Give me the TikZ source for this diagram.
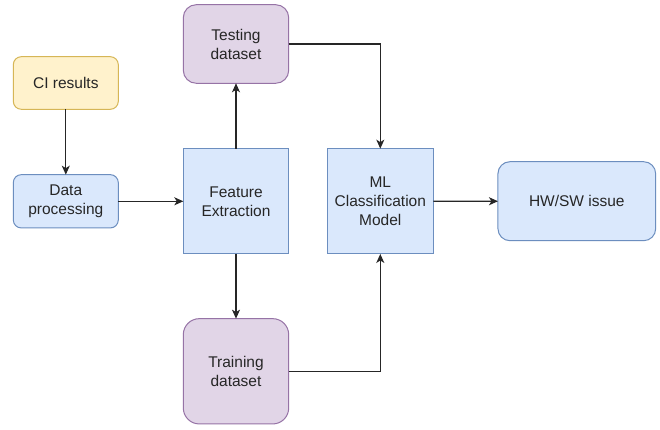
\documentclass[tikz,border=0pt]{standalone}
\usepackage{fontspec}
\setmainfont{Liberation Sans}
\usetikzlibrary{arrows.meta}
\definecolor{ylwfill}{HTML}{FFF2CC}
\definecolor{ylwline}{HTML}{D6B656}
\definecolor{bluefill}{HTML}{DAE8FC}
\definecolor{blueline}{HTML}{6C8EBF}
\definecolor{purpfill}{HTML}{E1D5E7}
\definecolor{purpline}{HTML}{9673A6}
\definecolor{txt}{HTML}{262626}
\tikzset{
  box/.style={rectangle, line width=1pt, inner sep=0pt, outer sep=0pt,
    align=center, text=txt, font=\fontsize{15.5}{19}\selectfont},
  yellowbox/.style={box, fill=ylwfill, draw=ylwline},
  bluebox/.style={box, fill=bluefill, draw=blueline},
  purplebox/.style={box, fill=purpfill, draw=purpline},
  link/.style={line width=1.2pt, draw=black!85, -{Stealth[length=9pt,width=8pt,inset=2.5pt]}}
}
\begin{document}
\begin{tikzpicture}[x=1pt,y=-1pt]
  \useasboundingbox[fill=white] (0,0) rectangle (660,430);

  \node[yellowbox, rounded corners=8pt, minimum width=105pt, minimum height=52.6pt]
    (ci) at (65.8,83) {CI results};
  \node[bluebox, rounded corners=8pt, minimum width=105pt, minimum height=53.3pt]
    (dp) at (65.8,201.3) {Data\\processing};
  \node[bluebox, minimum width=105.4pt, minimum height=105.3pt]
    (fe) at (236,201.3) {Feature\\Extraction};
  \node[purplebox, rounded corners=13pt, minimum width=105.4pt, minimum height=78.6pt]
    (test) at (236,44) {Testing\\dataset};
  \node[purplebox, rounded corners=16pt, minimum width=105.4pt, minimum height=105.3pt]
    (train) at (236,371.3) {Training\\dataset};
  \node[bluebox, minimum width=106pt, minimum height=105.3pt]
    (ml) at (380.3,201.3) {ML\\Classification\\Model};
  \node[bluebox, rounded corners=12pt, minimum width=157.7pt, minimum height=79pt]
    (hw) at (576.8,201.2) {HW/SW issue};

  \draw[link] (ci) -- (dp);
  \draw[link] (dp) -- (fe);
  \draw[link] (fe) -- (test);
  \draw[link] (fe) -- (train);
  \draw[link] (test.east) -| (ml.north);
  \draw[link] (train.east) -| (ml.south);
  \draw[link] (ml) -- (hw);
\end{tikzpicture}
\end{document}
